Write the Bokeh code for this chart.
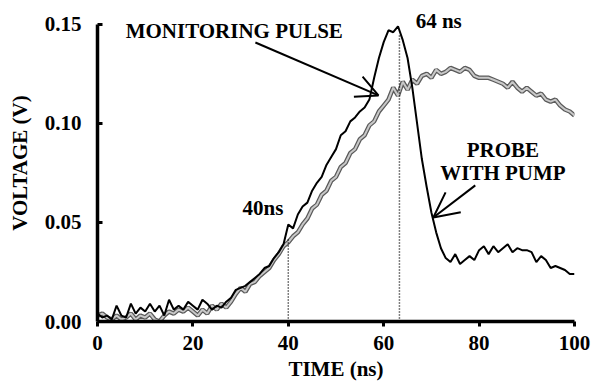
from bokeh.plotting import figure
from bokeh.models import Range1d, FixedTicker, PrintfTickFormatter, Label, Arrow, OpenHead
from bokeh.embed import file_html
from bokeh.resources import INLINE

# ---- data ----
time_ns = list(range(0, 101))

monitoring_pulse = [
    0.003, 0.004, 0.002, 0.001, 0.003, 0.001, 0.002, 0.004, 0.001, 0.003,
    0.002, 0.004, 0.001, 0.000, 0.003, 0.005, 0.004, 0.006, 0.005, 0.007,
    0.005, 0.003, 0.006, 0.004, 0.008, 0.006, 0.009, 0.007, 0.010, 0.014,
    0.017, 0.015, 0.019, 0.020, 0.023, 0.025, 0.027, 0.031, 0.034, 0.038,
    0.040, 0.043, 0.045, 0.049, 0.052, 0.057, 0.059, 0.064, 0.066, 0.071,
    0.073, 0.078, 0.080, 0.085, 0.087, 0.092, 0.094, 0.099, 0.101, 0.106,
    0.109, 0.112, 0.118, 0.114, 0.121, 0.117, 0.122, 0.120, 0.124, 0.125,
    0.123, 0.127, 0.125, 0.126, 0.128, 0.127, 0.126, 0.128, 0.127, 0.124,
    0.123, 0.123, 0.123, 0.122, 0.121, 0.120, 0.118, 0.121, 0.118, 0.116,
    0.118, 0.116, 0.114, 0.115, 0.112, 0.111, 0.112, 0.109, 0.107, 0.106,
    0.104,
]

probe_with_pump = [
    0.004, 0.002, 0.003, 0.001, 0.008, 0.003, 0.002, 0.009, 0.004, 0.007,
    0.005, 0.009, 0.005, 0.008, 0.003, 0.011, 0.006, 0.008, 0.006, 0.010,
    0.008, 0.006, 0.011, 0.009, 0.006, 0.008, 0.007, 0.010, 0.012, 0.016,
    0.017, 0.018, 0.020, 0.022, 0.024, 0.027, 0.028, 0.032, 0.035, 0.039,
    0.049, 0.047, 0.054, 0.058, 0.060, 0.066, 0.070, 0.073, 0.079, 0.083,
    0.087, 0.094, 0.096, 0.101, 0.103, 0.106, 0.108, 0.112, 0.123, 0.133,
    0.141, 0.147, 0.146, 0.149, 0.142, 0.133, 0.118, 0.100, 0.082, 0.068,
    0.055, 0.045, 0.037, 0.032, 0.030, 0.034, 0.029, 0.031, 0.033, 0.031,
    0.036, 0.038, 0.034, 0.038, 0.035, 0.037, 0.039, 0.035, 0.037, 0.036,
    0.036, 0.035, 0.030, 0.033, 0.031, 0.027, 0.028, 0.027, 0.026, 0.024,
    0.024,
]

x_ticks = [0, 20, 40, 60, 80, 100]
y_ticks = [0.0, 0.05, 0.10, 0.15]

marker_times = [40, 63.3]
marker_tops = [0.042, 0.145]

FONT = "Liberation Serif"
FS = "21px"

p = figure(width=611, height=387,
           x_range=Range1d(0, 100), y_range=Range1d(0, 0.16),
           output_backend="svg", toolbar_location=None,
           min_border_left=97, min_border_right=37,
           min_border_top=4, min_border_bottom=66)
p.grid.visible = False
p.outline_line_color = None
p.background_fill_color = "white"

# curves
p.line(time_ns, monitoring_pulse, line_color="#5a5a5a", line_width=4.5)
p.line(time_ns, monitoring_pulse, line_color="#c8c8c8", line_width=2)
p.line(time_ns, probe_with_pump, line_color="black", line_width=2)

# dotted markers
for t, top in zip(marker_times, marker_tops):
    p.segment(x0=[t], y0=[0], x1=[t], y1=[top], line_color="black",
              line_width=1.5, line_dash="1 2")

# axes
for ax in (p.xaxis[0], p.yaxis[0]):
    ax.axis_line_width = 3.5
    ax.major_tick_line_width = 3
    ax.minor_tick_line_color = None
    ax.major_label_text_font = FONT
    ax.major_label_text_font_style = "bold"
    ax.major_label_text_font_size = FS
    ax.major_label_text_color = "black"
    ax.axis_label_text_font = FONT
    ax.axis_label_text_font_style = "bold"
    ax.axis_label_text_font_size = FS
    ax.axis_label_text_color = "black"

p.xaxis.ticker = FixedTicker(ticks=x_ticks)
p.xaxis.major_tick_in = 0
p.xaxis.major_tick_out = 5
p.xaxis.major_label_standoff = 9
p.xaxis.axis_label = "TIME (ns)"
p.xaxis.axis_label_standoff = 4

p.yaxis.ticker = FixedTicker(ticks=y_ticks)
p.yaxis.formatter = PrintfTickFormatter(format="%.2f")
p.yaxis.major_tick_in = 5
p.yaxis.major_tick_out = 0
p.yaxis.major_label_standoff = 16
p.yaxis.axis_label = "VOLTAGE (V)"
p.yaxis.axis_label_standoff = 10
p.yaxis.bounds = (0, 0.15)


def lab(x, y, text, align="left"):
    p.add_layout(Label(x=x, y=y, text=text, text_font=FONT,
                       text_font_style="bold", text_font_size=FS,
                       text_color="black", text_align=align,
                       text_baseline="middle"))


lab(5.9, 0.1468, "MONITORING PULSE")
lab(66.7, 0.1515, "64 ns")
lab(85.0, 0.0868, "PROBE", align="center")
lab(85.0, 0.0752, "WITH PUMP", align="center")
lab(30.4, 0.0575, "40ns")

p.add_layout(Arrow(end=OpenHead(size=22, line_width=2, line_color="black"),
                   x_start=33.1, y_start=0.1408, x_end=58.9, y_end=0.1141,
                   line_width=2, line_color="black"))
p.add_layout(Arrow(end=OpenHead(size=25, line_width=2, line_color="black"),
                   x_start=79.2, y_start=0.0687, x_end=70.4, y_end=0.0525,
                   line_width=2, line_color="black"))

open("out.html", "w").write(file_html(p, INLINE))
